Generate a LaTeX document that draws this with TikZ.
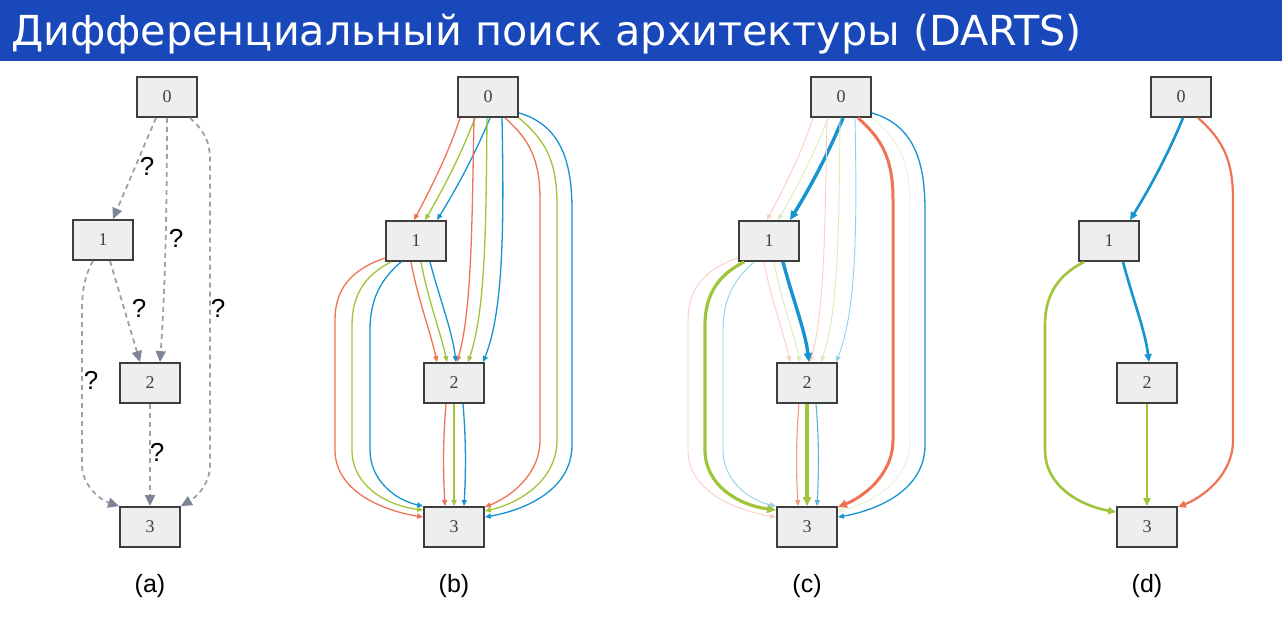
\documentclass[tikz,border=0pt]{standalone}
\usepackage{fontspec}
\usetikzlibrary{arrows.meta,calc}
\newfontfamily\titlefont{DejaVu Sans}
\newfontfamily\numfont{Liberation Serif}
\newfontfamily\labfont{Liberation Sans}
\definecolor{hdr}{RGB}{24,72,186}
\definecolor{boxfill}{RGB}{238,238,238}
\definecolor{boxline}{RGB}{62,62,62}
\definecolor{cor}{RGB}{240,116,84}
\definecolor{cgr}{RGB}{160,196,58}
\definecolor{cbl}{RGB}{22,148,208}
\definecolor{dashgray}{RGB}{160,160,160}
\definecolor{tipgray}{RGB}{125,133,150}
\tikzset{
  box/.style={draw=boxline, fill=boxfill, line width=1.8pt, minimum width=60pt, minimum height=40pt, inner sep=0pt, font=\numfont\fontsize{18}{18}\selectfont, text=black!75},
  qedge/.style={draw=dashgray, line width=1.8pt, dash pattern=on 5pt off 4pt, -{Triangle[length=11pt,width=10pt,color=tipgray]}},
  qmark/.style={font=\labfont\fontsize{26}{26}\selectfont, inner sep=0pt},
  sublabel/.style={font=\labfont\fontsize{25}{25}\selectfont, inner sep=0pt},
  ntip/.style={-{Triangle[length=6pt,width=5pt]}},
  ttip/.style={-{Triangle[length=9pt,width=8pt]}},
  eo/.style={draw=cor, line width=1.3pt, ntip},
  eg/.style={draw=cgr, line width=1.3pt, ntip},
  eb/.style={draw=cbl, line width=1.3pt, ntip},
  fo/.style={draw=cor!35, line width=0.9pt, ntip},
  fg/.style={draw=cgr!35, line width=0.9pt, ntip},
  ffg/.style={draw=cgr!22, line width=0.9pt, ntip},
  fb/.style={draw=cbl!45, line width=0.9pt, ntip},
  to/.style={draw=cor, line width=3pt, ttip},
  tg/.style={draw=cgr, line width=3.2pt, ttip},
  tb/.style={draw=cbl, line width=3.4pt, ttip},
  mo/.style={draw=cor!75, line width=1.1pt, ntip},
  mb/.style={draw=cbl!70, line width=1.1pt, ntip},
  do/.style={draw=cor, line width=2.2pt, -{Triangle[length=8pt,width=7pt]}},
  dg/.style={draw=cgr, line width=2.6pt, -{Triangle[length=8pt,width=7pt]}},
  db/.style={draw=cbl, line width=2.6pt, -{Triangle[length=8pt,width=7pt]}},
  b-o01/.style=eo, b-g01/.style=eg, b-b01/.style=eb,
  b-o02/.style=eo, b-g02/.style=eg, b-b02/.style=eb,
  b-o12/.style=eo, b-g12/.style=eg, b-b12/.style=eb,
  b-o03/.style=eo, b-g03/.style=eg, b-b03/.style=eb,
  b-o13/.style=eo, b-g13/.style=eg, b-b13/.style=eb,
  b-o23/.style=eo, b-g23/.style=eg, b-b23/.style=eb,
  c-o01/.style=fo, c-g01/.style=fg, c-b01/.style=tb,
  c-o02/.style=fo, c-g02/.style=fg, c-b02/.style=fb,
  c-o12/.style=fo, c-g12/.style=fg, c-b12/.style=tb,
  c-o03/.style=to, c-g03/.style=ffg, c-b03/.style=eb,
  c-o13/.style=fo, c-g13/.style=tg, c-b13/.style=fb,
  c-o23/.style=mo, c-g23/.style=tg, c-b23/.style=mb,
}
\newcommand\dartnodes[1]{%
  \node[box] (#1-0) at (488,97) {0};
  \node[box] (#1-1) at (416,241) {1};
  \node[box] (#1-2) at (454,383) {2};
  \node[box] (#1-3) at (454,527) {3};
}
\newcommand\mixpanel[1]{%
  \dartnodes{#1}
  % 0 -> 1
  \draw[#1-o01] ([xshift=-28pt]#1-0.south) .. controls (449,152) and (432,186) .. ([xshift=-2pt]#1-1.north);
  \draw[#1-g01] ([xshift=-13pt]#1-0.south) .. controls (462,152) and (445,186) .. ([xshift=9pt]#1-1.north);
  \draw[#1-b01] ([xshift=2pt]#1-0.south) .. controls (476,152) and (458,186) .. ([xshift=21pt]#1-1.north);
  % 0 -> 2
  \draw[#1-o02] ([xshift=-14pt]#1-0.south) .. controls (472,220) and (472,310) .. ([xshift=3pt]#1-2.north);
  \draw[#1-g02] ([xshift=-1pt]#1-0.south) .. controls (486,220) and (486,310) .. ([xshift=14pt]#1-2.north);
  \draw[#1-b02] ([xshift=14pt]#1-0.south) .. controls (504,220) and (504,310) .. ([xshift=29pt]#1-2.north);
  % 1 -> 2
  \draw[#1-o12] ([xshift=-5pt]#1-1.south) .. controls (418,300) and (430,330) .. ([xshift=-17pt]#1-2.north);
  \draw[#1-g12] ([xshift=5pt]#1-1.south) .. controls (428,300) and (440,330) .. ([xshift=-7pt]#1-2.north);
  \draw[#1-b12] ([xshift=14pt]#1-1.south) .. controls (440,300) and (452,330) .. ([xshift=2pt]#1-2.north);
  % 0 -> 3
  \draw[#1-o03] ([xshift=17pt]#1-0.south) .. controls (530,140) and (540,160) .. (540,200) -- (540,440) .. controls (540,475) and (510,497) .. ([yshift=-1pt]#1-3.north east);
  \draw[#1-g03] (#1-0.south east) .. controls (545,140) and (557,160) .. (557,205) -- (557,440) .. controls (557,480) and (520,503) .. ([yshift=-5pt]#1-3.north east);
  \draw[#1-b03] ([yshift=5pt]#1-0.south east) .. controls (560,125) and (572,160) .. (572,210) -- (572,445) .. controls (572,490) and (525,510) .. ([yshift=-11pt]#1-3.north east);
  % 1 -> 3
  \draw[#1-o13] ([yshift=4pt]#1-1.south west) .. controls (350,270) and (335,290) .. (335,320) -- (335,450) .. controls (335,490) and (380,510) .. ([yshift=-11pt]#1-3.north west);
  \draw[#1-g13] ([xshift=6pt]#1-1.south west) .. controls (365,275) and (352,295) .. (352,325) -- (352,450) .. controls (352,485) and (385,505) .. ([yshift=-4pt]#1-3.north west);
  \draw[#1-b13] ([xshift=16pt]#1-1.south west) .. controls (380,280) and (370,300) .. (370,330) -- (370,450) .. controls (370,480) and (395,500) .. (#1-3.north west);
  % 2 -> 3
  \draw[#1-o23] ([xshift=-8pt]#1-2.south) .. controls (443,440) and (443,470) .. ([xshift=-9pt]#1-3.north);
  \draw[#1-g23] (#1-2.south) -- (#1-3.north);
  \draw[#1-b23] ([xshift=9pt]#1-2.south) .. controls (466,440) and (466,470) .. ([xshift=10pt]#1-3.north);
}
\begin{document}
\begin{tikzpicture}[x=1pt,y=-1pt]
\useasboundingbox (0,0) rectangle (1282,616);
\fill[white] (0,0) rectangle (1282,616);
\fill[hdr] (0,0) rectangle (1282,61);
\node[anchor=base west, text=white, inner sep=0pt, font=\titlefont\fontsize{41.3}{44}\selectfont] (title) at (11,45) {Дифференциальный поиск архитектуры (DARTS)};

% ---------- panel (a)
\node[box] (a0) at (167,97) {0};
\node[box] (a1) at (103,240) {1};
\node[box] (a2) at (150,383) {2};
\node[box] (a3) at (150,527) {3};
\draw[qedge] ([xshift=-11pt]a0.south) -- ([xshift=10pt]a1.north);
\draw[qedge] (a0.south) .. controls (167,250) and (163,320) .. ([xshift=10pt]a2.north);
\draw[qedge] ([xshift=23pt]a0.south) .. controls (203,130) and (210,140) .. (210,160) -- (210,465) .. controls (210,485) and (195,498) .. (a3.north east);
\draw[qedge] ([xshift=-10pt]a1.south) .. controls (85,275) and (82,290) .. (82,310) -- (82,465) .. controls (82,485) and (100,500) .. (a3.north west);
\draw[qedge] ([xshift=7pt]a1.south) -- ([xshift=-10pt]a2.north);
\draw[qedge] (a2.south) -- (a3.north);
\node[qmark] (q1) at (147,166) {?};
\node[qmark] (q2) at (176,238) {?};
\node[qmark] (q3) at (218,308) {?};
\node[qmark] (q4) at (139,308) {?};
\node[qmark] (q5) at (91,380) {?};
\node[qmark] (q6) at (157,452) {?};
\node[sublabel] (la) at (150,586) {(a)};

% ---------- panel (b)
\mixpanel{b}
\node[sublabel] (lb) at (454,586) {(b)};

% ---------- panel (c)
\begin{scope}[xshift=353pt]
\mixpanel{c}
\end{scope}
\node[sublabel] (lc) at (807,586) {(c)};

% ---------- panel (d)
\begin{scope}[xshift=693pt]
\dartnodes{d}
\draw[db] ([xshift=2pt]d-0.south) .. controls (476,152) and (458,186) .. ([xshift=21pt]d-1.north);
\draw[do] ([xshift=17pt]d-0.south) .. controls (530,140) and (540,160) .. (540,200) -- (540,440) .. controls (540,475) and (510,497) .. ([yshift=-1pt]d-3.north east);
\draw[db] ([xshift=14pt]d-1.south) .. controls (440,300) and (452,330) .. ([xshift=2pt]d-2.north);
\draw[dg] ([xshift=6pt]d-1.south west) .. controls (365,275) and (352,295) .. (352,325) -- (352,450) .. controls (352,485) and (385,505) .. ([yshift=-6pt]d-3.north west);
\draw[dg] (d-2.south) -- (d-3.north);
\end{scope}
\node[sublabel] (ld) at (1147,586) {(d)};
\end{tikzpicture}
\end{document}
